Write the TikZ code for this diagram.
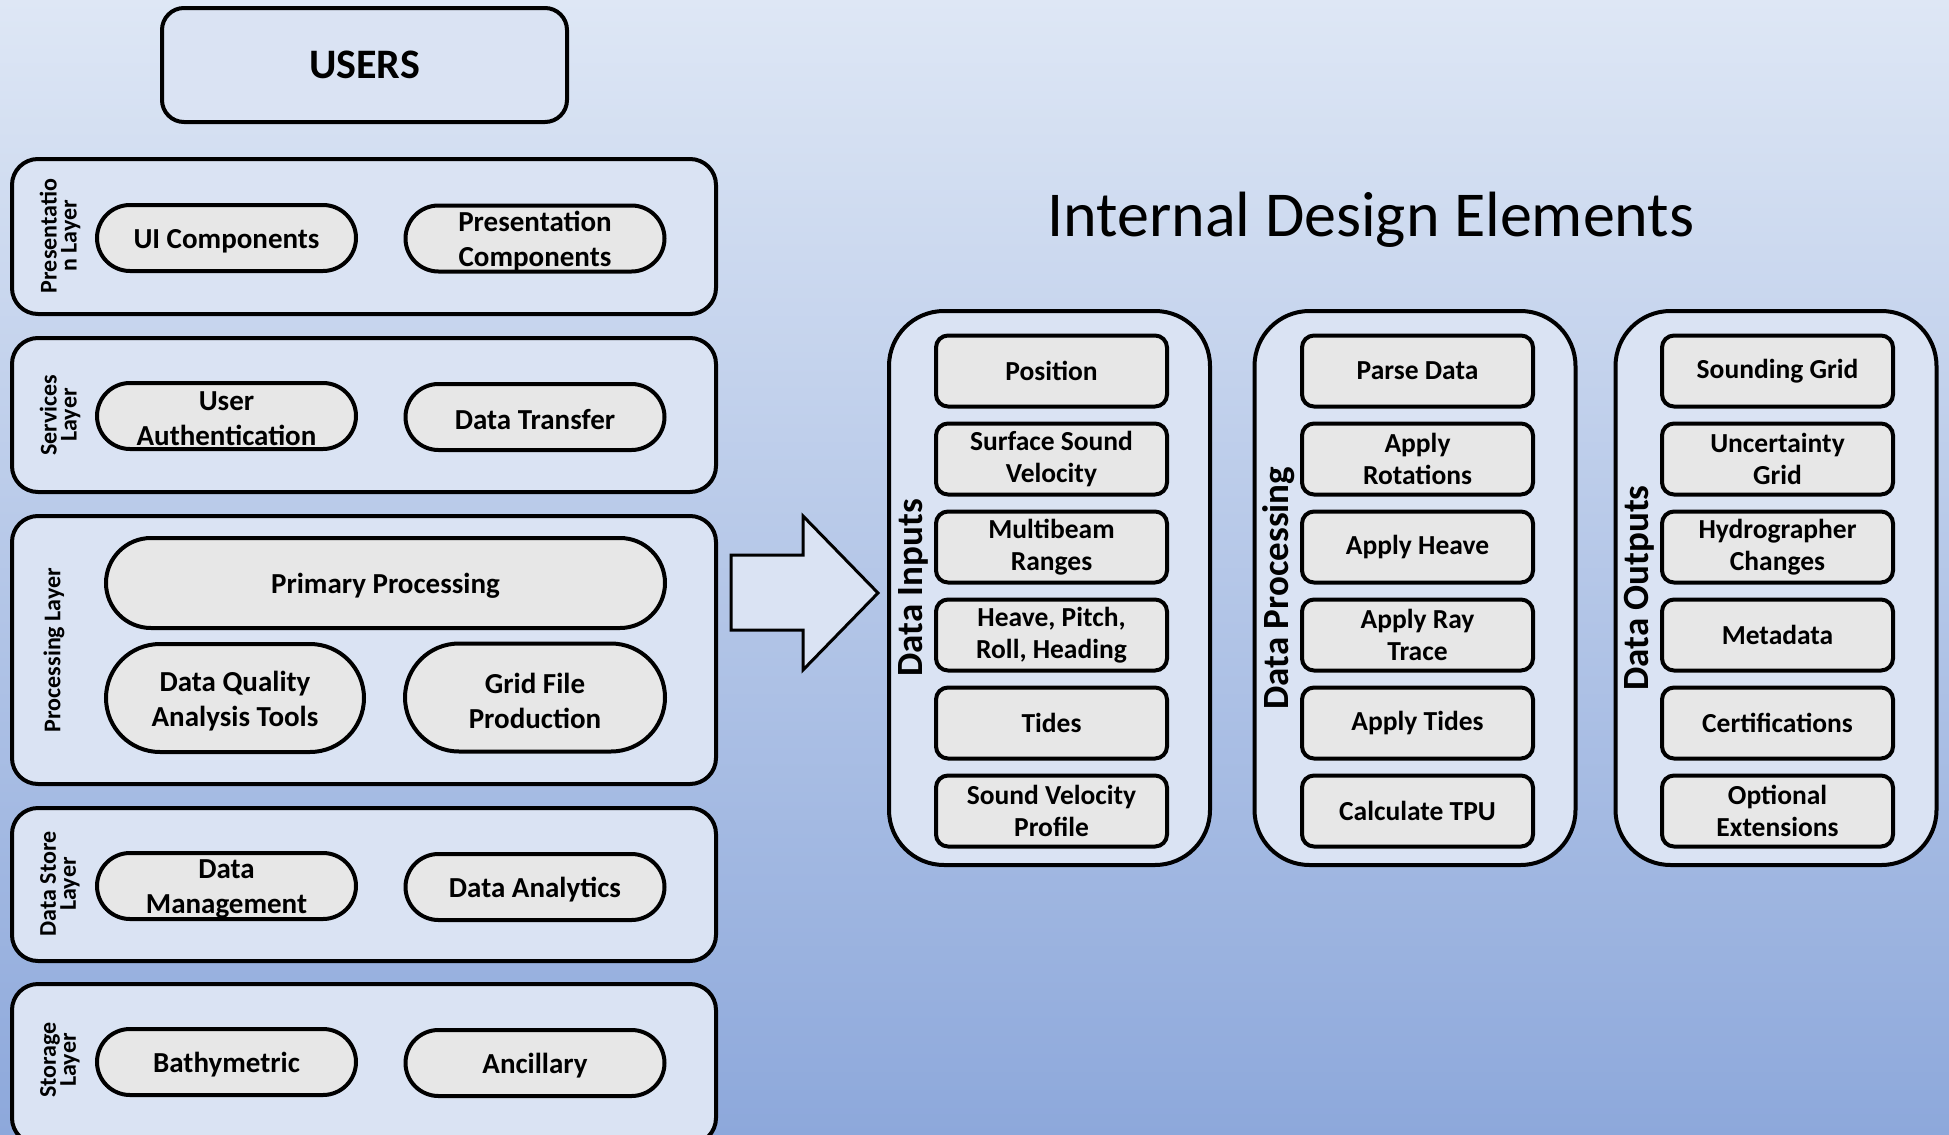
\documentclass[tikz,border=0pt]{standalone}
\usepackage{fontspec}
\setmainfont{Carlito}
\definecolor{bgtop}{RGB}{222,231,245}
\definecolor{bgbot}{RGB}{141,168,219}
\definecolor{panel}{RGB}{218,227,243}
\definecolor{chip}{RGB}{231,231,231}
\tikzset{
  layerbox/.style={draw=black, line width=4pt, fill=panel, rounded corners=26pt,
    inner sep=0pt, minimum width=704pt},
  pilltext/.style={inner sep=0pt, align=center, yshift=-3pt,
    font=\fontsize{29}{35}\selectfont\bfseries},
  pill/.style={draw=black, line width=4pt, fill=chip, inner sep=0pt,
    label={[pilltext]center:{#1}}},
  smallpill/.style={pill=#1, rounded corners=33pt, minimum width=259pt, minimum height=66pt},
  bigpill/.style={pill=#1, rounded corners=54pt, minimum height=108pt},
  layerlabel/.style={rotate=90, align=center, inner sep=0pt,
    font=\fontsize{24}{20}\selectfont\bfseries},
  column/.style={draw=black, line width=4pt, fill=panel, rounded corners=55pt,
    minimum width=321pt, minimum height=554pt, inner sep=0pt},
  colhead/.style={rotate=90, inner sep=0pt, font=\fontsize{37}{40}\selectfont\bfseries},
  item/.style={draw=black, line width=4pt, fill=chip, rounded corners=12pt,
    minimum width=231pt, minimum height=71pt, inner sep=0pt, align=center,
    font=\fontsize{27.5}{32.5}\selectfont\bfseries},
}
\begin{document}
\begin{tikzpicture}[x=1pt, y=-1pt]
  % page and background
  \useasboundingbox (0,0) rectangle (1949,1135);
  \shade[top color=bgtop, bottom color=bgbot] (0,0) rectangle (1949,1135);

  % users box
  \node[draw=black, line width=4pt, fill=panel, rounded corners=22pt,
        minimum width=405pt, minimum height=114pt, inner sep=0pt,
        font=\fontsize{42}{46}\selectfont\bfseries] (users) at (364.5,65) {USERS};

  % layered architecture
  \node[layerbox, minimum height=155pt] (pres) at (364,236.5) {};
  \node[layerlabel] (presl) at (60,236) {Presentatio\\n Layer};
  \node[smallpill={UI Components}] (ui) at (226.5,238) {};
  \node[smallpill={Presentation\\Components}] (pc) at (535,238.5) {};

  \node[layerbox, minimum height=154pt] (serv) at (364,415) {};
  \node[layerlabel] (servl) at (60,415) {Services\\Layer};
  \node[smallpill={User\\Authentication}] (auth) at (226.5,416) {};
  \node[smallpill={Data Transfer}] (xfer) at (535,417) {};

  \node[layerbox, minimum height=268pt] (proc) at (364,650) {};
  \node[layerlabel] (procl) at (54,650) {Processing Layer};
  \node[pill={Primary Processing}, rounded corners=45pt, minimum width=559pt,
        minimum height=90pt] (prim) at (385.5,583) {};
  \node[bigpill={Data Quality\\Analysis Tools}, minimum width=258pt] (dqa) at (235,698) {};
  \node[bigpill={Grid File\\Production}, minimum width=260pt] (grid) at (535,697.5) {};

  \node[layerbox, minimum height=153pt] (store) at (364,884.5) {};
  \node[layerlabel] (storel) at (60,884) {Data Store\\Layer};
  \node[smallpill={Data\\Management}] (mgmt) at (226.5,886) {};
  \node[smallpill={Data Analytics}] (anl) at (535,887) {};

  \node[layerbox, minimum height=160pt] (stor) at (364,1064) {};
  \node[layerlabel] (storl) at (60,1060) {Storage\\Layer};
  \node[smallpill={Bathymetric}] (bath) at (226.5,1062) {};
  \node[smallpill={Ancillary}] (anc) at (535,1063) {};

  % block arrow towards the design elements
  \draw[line width=3pt, fill=panel, line join=miter]
    (731,555) -- (803,555) -- (803,516) -- (878,593) -- (803,670) -- (803,630)
    -- (731,630) -- cycle;

  % title
  \node[anchor=base, inner sep=0pt, font=\fontsize{64}{70}\selectfont] (title)
        at (1371,236) {Internal Design Elements};

  % design element columns
  \node[column] (inputs) at (1049.5,588) {};
  \node[colhead] (inputsl) at (913,588) {Data Inputs};
  \node[item] (i1) at (1051.5,371) {Position};
  \node[item] (i2) at (1051.5,459) {Surface Sound\\Velocity};
  \node[item] (i3) at (1051.5,547) {Multibeam\\Ranges};
  \node[item] (i4) at (1051.5,635) {Heave, Pitch,\\Roll, Heading};
  \node[item] (i5) at (1051.5,723) {Tides};
  \node[item] (i6) at (1051.5,811) {Sound Velocity\\Profile};

  \node[column] (procs) at (1415,588) {};
  \node[colhead] (procsl) at (1279,588) {Data Processing};
  \node[item] (p1) at (1417.5,371) {Parse Data};
  \node[item] (p2) at (1417.5,459) {Apply\\Rotations};
  \node[item] (p3) at (1417.5,547) {Apply Heave};
  \node[item] (p4) at (1417.5,635) {Apply Ray\\Trace};
  \node[item] (p5) at (1417.5,723) {Apply Tides};
  \node[item] (p6) at (1417.5,811) {Calculate TPU};

  \node[column] (outs) at (1776,588) {};
  \node[colhead] (outsl) at (1639,588) {Data Outputs};
  \node[item] (o1) at (1777.5,371) {Sounding Grid};
  \node[item] (o2) at (1777.5,459) {Uncertainty\\Grid};
  \node[item] (o3) at (1777.5,547) {Hydrographer\\Changes};
  \node[item] (o4) at (1777.5,635) {Metadata};
  \node[item] (o5) at (1777.5,723) {Certifications};
  \node[item] (o6) at (1777.5,811) {Optional\\Extensions};
\end{tikzpicture}
\end{document}
